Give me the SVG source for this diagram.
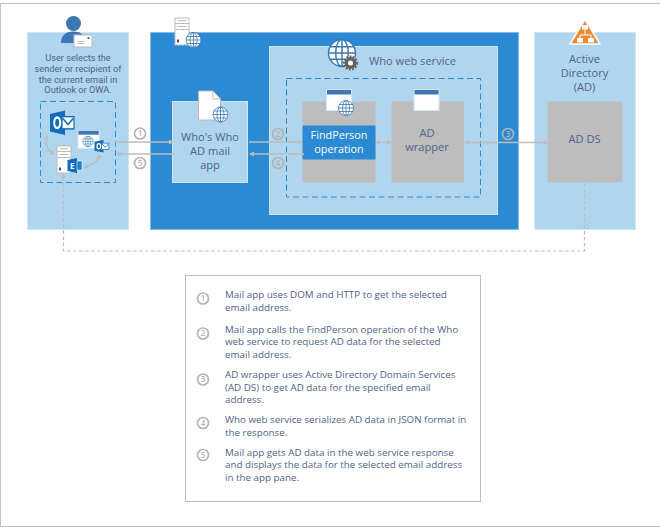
<svg xmlns="http://www.w3.org/2000/svg" xmlns:xlink="http://www.w3.org/1999/xlink" width="660" height="527" viewBox="0 0 660 527">
<style>
text{font-family:"Open Sans","Noto Sans","Liberation Sans",sans-serif;fill:#4f6488}
.m{font-size:11.100px;text-anchor:middle}
.s{font-family:Roboto,"Open Sans",sans-serif;font-size:9.200px;text-anchor:middle}
.b{font-size:9.800px}
.lb{fill:#b0d5ef;stroke:#cfe4f5;stroke-width:1}
.gr{fill:#bdbdbd}
.da{fill:none;stroke:#2a8ad4;stroke-width:1;stroke-dasharray:6 3.5}
.ln{fill:none;stroke:#bdbdbd;stroke-width:1.6}
.dl{fill:none;stroke:#bdbdbd;stroke-width:1.2;stroke-dasharray:3.5 2.5}
.c{fill:none;stroke:#b4b4b4;stroke-width:1.7}
.ct{font-size:8px;text-anchor:middle;font-weight:600;fill:#b4b4b4}
.g{fill:#fff;stroke:#3c78b5;stroke-width:.8}
</style>
<defs>
<marker id="a" markerWidth="5" markerHeight="5" refX="4" refY="2.5" orient="auto-start-reverse" markerUnits="userSpaceOnUse"><path d="M0 0L5 2.500L0 5Z" fill="#bdbdbd"/></marker>
<g id="globe"><circle r="7.500" class="g"/><ellipse rx="3.500" ry="7.500" class="g" style="fill:none"/><path d="M-7.500 0H7.500M-6.600-3.500H6.600M-6.600 3.500H6.600M0-7.500V7.500" class="g" style="fill:none"/></g>
<g id="server"><rect x=".5" y=".5" width="14" height="27" fill="#fff" stroke="#bbb" stroke-width="1"/><path d="M.5 6H14.500M.5 12H14.500M3 3.200H12M3 9H12" stroke="#bbb" stroke-width="1" fill="none"/><rect x="2.500" y="22" width="2" height="3" fill="#555"/></g>
<g id="win"><rect x=".5" y=".5" width="25" height="21" fill="#fff" stroke="#d6e6f4" stroke-width="1"/><rect x="1" y="1" width="24" height="4.500" fill="#3f78b5"/></g>
<g id="ol"><path d="M0 2L10 0V14L0 12Z" fill="#0f6cbd"/><rect x="8" y="3.500" width="8" height="7" fill="#fff" stroke="#0f6cbd" stroke-width=".8"/><path d="M8.500 4.500L12 8L15.500 4.500" fill="none" stroke="#0f6cbd" stroke-width="1"/><ellipse cx="4.800" cy="7" rx="2" ry="3" fill="none" stroke="#fff" stroke-width="1.400"/></g>
</defs>
<rect width="660" height="527" fill="#fff"/>
<path d="M660 3.500H.5V526.500H660" fill="none" stroke="#c0c0c0" stroke-width="1"/>

<g id="panel-user">
<rect class="lb" x="27.500" y="32.500" width="101" height="197"/>
<text class="s"><tspan x="78" y="61">User selects the</tspan><tspan x="78" y="71.800">sender or recipient of</tspan><tspan x="78" y="82.500">the current email in</tspan><tspan x="78" y="93.200">Outlook or OWA.</tspan></text>
<rect class="da" x="40.500" y="101.500" width="75" height="81"/>
<g id="icon-user"><circle cx="73.500" cy="23.500" r="7.500" fill="#3c78b5"/><path d="M61 43C61 36 65 31.500 73.500 31.500C82 31.500 85 36 85 43Z" fill="#3c78b5"/><rect x="74" y="35" width="18" height="12" fill="#fff" stroke="#bbb" stroke-width="1"/><path d="M78 41.500H84M78 43.500H84" stroke="#aaa" stroke-width=".8"/><rect x="87.500" y="37" width="2" height="2" fill="#3c78b5"/></g>
<use xlink:href="#ol" transform="translate(50 110.500) scale(1.500 1.750)"/>
<use xlink:href="#win" transform="translate(77.500 130) scale(.85)"/>
<use xlink:href="#globe" transform="translate(88 141.500) scale(.7)"/>
<use xlink:href="#ol" transform="translate(94.500 140) scale(.9)"/>
<use xlink:href="#server" transform="translate(56.500 145.500)"/>
<path d="M67.500 160L77 158V173L67.500 171Z" fill="#0f6cbd"/><text x="72.200" y="168.800" style="font-size:8px;font-weight:700;fill:#fff;text-anchor:middle">E</text>
<rect x="77" y="161" width="5" height="9" fill="#1e7fc9" stroke="#fff" stroke-width=".5"/>
<path class="ln" marker-start="url(#a)" marker-end="url(#a)" d="M47 136Q44 149 54 154"/>
<path class="ln" marker-start="url(#a)" marker-end="url(#a)" d="M84 167Q96 165 100 155"/>
</g>

<g id="panel-server">
<rect x="150.500" y="32.500" width="368" height="197" fill="#2a8ad4" stroke="#85bde8" stroke-width="1"/>
<use xlink:href="#server" transform="translate(174.500 17.500)"/>
<use xlink:href="#globe" transform="translate(193.500 40)"/>
</g>
<g id="panel-who">
<rect class="lb" x="269.500" y="46.500" width="228" height="168"/>
<use xlink:href="#globe" transform="translate(342 53) scale(1.800)"/>
<g transform="translate(350.500 63)"><circle r="6.500" fill="#636363" stroke="#fff" stroke-width="1"/><circle r="6.500" fill="none" stroke="#636363" stroke-width="2" stroke-dasharray="2 1.200"/><circle r="2.500" fill="#fff"/></g>
<text class="m" x="369" y="64.500" style="text-anchor:start">Who web service</text>
<rect class="da" x="286.500" y="78.500" width="194" height="118.500"/>
</g>
<g id="node-mail-app">
<rect class="lb" x="172.500" y="101.500" width="75" height="81"/>
<path d="M198.500 91H213L220.500 99V120H198.500Z" fill="#fff" stroke="#bbb" stroke-width="1"/><path d="M213 91V99H220.500" fill="none" stroke="#bbb" stroke-width="1"/>
<use xlink:href="#globe" transform="translate(220.500 114.500)"/>
<text class="m"><tspan x="210" y="141">Who's Who</tspan><tspan x="210" y="154.500">AD mail</tspan><tspan x="210" y="169">app</tspan></text>
</g>
<g id="node-findperson">
<rect class="gr" x="302.500" y="101.500" width="73" height="81"/>
<rect x="302.500" y="125.500" width="73" height="34" fill="#2a8ad4"/>
<use xlink:href="#win" transform="translate(326 89)"/>
<use xlink:href="#globe" transform="translate(346 108)"/>
<text class="m" style="fill:#fff;font-size:10.800px"><tspan x="339" y="139">FindPerson</tspan><tspan x="339" y="153">operation</tspan></text>
</g>
<g id="node-wrapper">
<rect class="gr" x="391.500" y="101.500" width="72.500" height="81"/>
<use xlink:href="#win" transform="translate(413.500 89)"/>
<text class="m"><tspan x="427" y="137">AD</tspan><tspan x="427" y="151">wrapper</tspan></text>
</g>
<g id="panel-ad">
<rect class="lb" x="534.500" y="32.500" width="101" height="197"/>
<path d="M585 19.500L600 44H570Z" fill="#ea8a35" stroke="#fff" stroke-width="1.500" stroke-linejoin="round"/>
<path d="M585 28V35M580 38V35H591V38" stroke="#fff" stroke-width="1" fill="none"/>
<rect x="582" y="25" width="6" height="4.500" fill="#fff"/><rect x="577" y="38" width="6" height="4.500" fill="#fff"/><rect x="588" y="38" width="6" height="4.500" fill="#fff"/>
<text class="m"><tspan x="584.500" y="62.500">Active</tspan><tspan x="584.500" y="76.500">Directory</tspan><tspan x="584.500" y="91">(AD)</tspan></text>
<rect class="gr" x="547.500" y="101.500" width="75" height="81"/>
<text class="m" x="584.500" y="143">AD DS</text>
</g>
<g id="connectors">
<path class="ln" marker-end="url(#a)" d="M115 142H173"/>
<path class="ln" marker-start="url(#a)" d="M117 154H174"/>
<path class="ln" marker-end="url(#a)" d="M249 142H302"/>
<path class="ln" marker-start="url(#a)" d="M250 154H304"/>
<path class="ln" marker-start="url(#a)" marker-end="url(#a)" d="M376 142.500H391" style="stroke-width:1.200"/>
<path class="ln" marker-start="url(#a)" marker-end="url(#a)" d="M465 142.500H548"/>
<path class="dl" marker-end="url(#a)" d="M584.500 183V251H63.500V174"/>
<g id="steps">
<circle class="c" cx="140" cy="133.500" r="5.500"/><text class="ct" x="140" y="136.300">1</text>
<circle class="c" cx="140" cy="163" r="5.500"/><text class="ct" x="140" y="165.800">5</text>
<circle class="c" cx="278" cy="134" r="5.500"/><text class="ct" x="278" y="136.800">2</text>
<circle class="c" cx="278" cy="163" r="5.500"/><text class="ct" x="278" y="165.800">4</text>
<circle class="c" cx="508" cy="134" r="5.500"/><text class="ct" x="508" y="136.800">3</text>
</g>
</g>
<g id="legend">
<rect x="185.500" y="275.500" width="295" height="226" fill="#fff" stroke="#bdbdbd" stroke-width="1"/>
<circle class="c" cx="203" cy="298.500" r="5.500"/><text class="ct" x="203" y="301.300">1</text>
<circle class="c" cx="203" cy="333.500" r="5.500"/><text class="ct" x="203" y="336.300">2</text>
<circle class="c" cx="203" cy="379.500" r="5.500"/><text class="ct" x="203" y="382.300">3</text>
<circle class="c" cx="203" cy="423" r="5.500"/><text class="ct" x="203" y="425.800">4</text>
<circle class="c" cx="203" cy="455" r="5.500"/><text class="ct" x="203" y="457.800">5</text>
<text class="b"><tspan x="225" y="298">Mail app uses DOM and HTTP to get the selected</tspan><tspan x="225" y="311">email address.</tspan></text>
<text class="b"><tspan x="225" y="332.500">Mail app calls the FindPerson operation of the Who</tspan><tspan x="225" y="345">web service to request AD data for the selected</tspan><tspan x="225" y="358">email address.</tspan></text>
<text class="b"><tspan x="225" y="378">AD wrapper uses Active Directory Domain Services</tspan><tspan x="225" y="390.500">(AD DS) to get AD data for the specified email</tspan><tspan x="225" y="403">address.</tspan></text>
<text class="b"><tspan x="225" y="423">Who web service serializes AD data in JSON format in</tspan><tspan x="225" y="435.500">the response.</tspan></text>
<text class="b"><tspan x="225" y="455.500">Mail app gets AD data in the web service response</tspan><tspan x="225" y="468">and displays the data for the selected email address</tspan><tspan x="225" y="480.500">in the app pane.</tspan></text>
</g>
</svg>
